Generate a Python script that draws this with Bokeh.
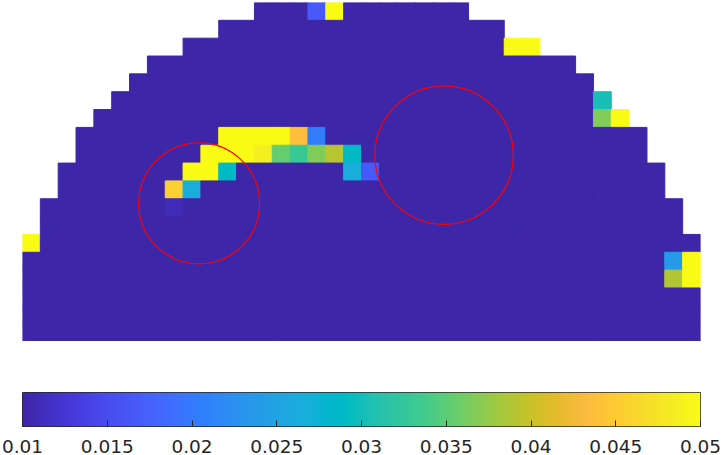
import numpy as np
from bokeh.plotting import figure
from bokeh.layouts import column
from bokeh.models import Range1d, LinearColorMapper, FixedTicker, ColumnDataSource
from bokeh.transform import linear_cmap
from bokeh.embed import file_html
from bokeh.resources import INLINE

# ---------------- data ----------------
n_cols = 38
n_rows = 19
# first / last filled column of each grid row (row 0 = top)
row_first = [13, 11, 9, 7, 6, 5, 4, 3, 3, 2, 2, 1, 1, 0, 0, 0, 0, 0, 0]
row_last = [24, 26, 28, 30, 31, 32, 33, 34, 34, 35, 35, 36, 36, 37, 37, 37, 37, 37, 37]
base_value = 0.0
# non-background cells
hot_row = [0, 0, 2, 2, 5, 6, 6, 7, 7, 7, 7, 7, 7,
           8, 8, 8, 8, 8, 8, 8, 8, 8,
           9, 9, 9, 9, 9, 10, 10, 11, 13, 14, 14, 15, 15]
hot_col = [16, 17, 27, 28, 32, 32, 33, 11, 12, 13, 14, 15, 16,
           10, 11, 12, 13, 14, 15, 16, 17, 18,
           9, 10, 11, 18, 19, 8, 9, 8, 0, 36, 37, 36, 37]
hot_val = [0.0167, 0.05, 0.05, 0.05, 0.0303, 0.0367, 0.05, 0.05, 0.05, 0.05, 0.05, 0.0437, 0.0202,
           0.05, 0.05, 0.05, 0.0487, 0.0354, 0.0329, 0.0367, 0.0392, 0.029,
           0.05, 0.05, 0.029, 0.0265, 0.0167, 0.0456, 0.0265, 0.011, 0.05, 0.024, 0.05, 0.0389, 0.05]

circle_x = [9.90, 23.63]
circle_y = [7.74, 10.44]
circle_r = [3.39, 3.88]

cbar_low = 0.01
cbar_high = 0.05
cbar_ticks = [0.01, 0.015, 0.02, 0.025, 0.03, 0.035, 0.04, 0.045, 0.05]
cbar_labels = ["0.01", "0.015", "0.02", "0.025", "0.03", "0.035", "0.04", "0.045", "0.05"]

# parula colormap (64 anchors)
parula64 = [
    (0.2422, 0.1504, 0.6603), (0.2504, 0.1650, 0.7076), (0.2578, 0.1818, 0.7511), (0.2647, 0.1978, 0.7952),
    (0.2706, 0.2147, 0.8364), (0.2751, 0.2342, 0.8710), (0.2783, 0.2559, 0.8991), (0.2803, 0.2782, 0.9221),
    (0.2813, 0.3006, 0.9414), (0.2810, 0.3228, 0.9579), (0.2795, 0.3447, 0.9717), (0.2760, 0.3667, 0.9829),
    (0.2699, 0.3892, 0.9906), (0.2602, 0.4123, 0.9952), (0.2440, 0.4358, 0.9988), (0.2206, 0.4603, 0.9973),
    (0.1963, 0.4847, 0.9892), (0.1834, 0.5074, 0.9798), (0.1786, 0.5289, 0.9682), (0.1764, 0.5499, 0.9520),
    (0.1687, 0.5703, 0.9359), (0.1540, 0.5902, 0.9218), (0.1460, 0.6091, 0.9079), (0.1380, 0.6276, 0.8973),
    (0.1248, 0.6459, 0.8883), (0.1113, 0.6635, 0.8763), (0.0952, 0.6798, 0.8598), (0.0689, 0.6948, 0.8394),
    (0.0297, 0.7082, 0.8163), (0.0036, 0.7203, 0.7917), (0.0067, 0.7312, 0.7660), (0.0433, 0.7411, 0.7394),
    (0.0964, 0.7500, 0.7120), (0.1408, 0.7584, 0.6842), (0.1717, 0.7670, 0.6554), (0.1938, 0.7758, 0.6251),
    (0.2161, 0.7843, 0.5923), (0.2470, 0.7918, 0.5567), (0.2906, 0.7973, 0.5188), (0.3406, 0.8008, 0.4789),
    (0.3909, 0.8029, 0.4354), (0.4456, 0.8024, 0.3909), (0.5044, 0.7993, 0.3480), (0.5616, 0.7942, 0.3045),
    (0.6174, 0.7876, 0.2612), (0.6720, 0.7793, 0.2227), (0.7242, 0.7698, 0.1910), (0.7738, 0.7598, 0.1646),
    (0.8203, 0.7498, 0.1535), (0.8634, 0.7406, 0.1596), (0.9035, 0.7330, 0.1774), (0.9393, 0.7288, 0.2100),
    (0.9728, 0.7298, 0.2394), (0.9956, 0.7434, 0.2371), (0.9970, 0.7659, 0.2199), (0.9952, 0.7893, 0.2028),
    (0.9892, 0.8136, 0.1885), (0.9786, 0.8386, 0.1766), (0.9676, 0.8639, 0.1643), (0.9610, 0.8890, 0.1537),
    (0.9597, 0.9135, 0.1423), (0.9628, 0.9373, 0.1265), (0.9691, 0.9606, 0.1064), (0.9769, 0.9839, 0.0805),
]

# ---------------- build ----------------
anc = np.array(parula64)
t_src = np.linspace(0, 1, len(anc))
t_dst = np.linspace(0, 1, 256)
pal = []
for t in t_dst:
    rgb = [np.interp(t, t_src, anc[:, k]) for k in range(3)]
    pal.append("#%02x%02x%02x" % tuple(int(round(v * 255)) for v in rgb))

hot = {(r, c): v for r, c, v in zip(hot_row, hot_col, hot_val)}
xs, ys, vs = [], [], []
for r in range(n_rows):
    for c in range(row_first[r], row_last[r] + 1):
        xs.append(c + 0.5)
        ys.append(n_rows - 1 - r + 0.5)
        vs.append(hot.get((r, c), base_value))
src = ColumnDataSource(dict(x=xs, y=ys, v=vs))

p = figure(frame_width=678, frame_height=339,
           x_range=Range1d(0, n_cols), y_range=Range1d(0, n_rows),
           output_backend="svg", toolbar_location=None,
           x_axis_location=None, y_axis_location=None,
           min_border_left=22, min_border_right=22, min_border_top=2, min_border_bottom=0)
p.outline_line_color = None
p.background_fill_color = "white"
p.border_fill_color = "white"
p.xgrid.visible = False
p.ygrid.visible = False

cmap = linear_cmap("v", pal, cbar_low, cbar_high)
p.rect(x="x", y="y", width=1, height=1, source=src,
       fill_color=cmap, line_color=cmap, line_width=1)
p.circle(x=circle_x, y=circle_y, radius=circle_r,
         fill_color=None, line_color="red", line_width=1.2)

# colour bar figure
p2 = figure(frame_width=678, frame_height=34,
            x_range=Range1d(cbar_low, cbar_high), y_range=Range1d(0, 1),
            output_backend="svg", toolbar_location=None,
            y_axis_location=None,
            min_border_left=22, min_border_right=22, min_border_top=51, min_border_bottom=0)
p2.xgrid.visible = False
p2.ygrid.visible = False
p2.outline_line_color = "#262626"
p2.outline_line_width = 1
mapper = LinearColorMapper(palette=pal, low=cbar_low, high=cbar_high)
grad = np.linspace(cbar_low, cbar_high, 256)[None, :]
p2.image(image=[grad], x=cbar_low, y=0, dw=cbar_high - cbar_low, dh=1, color_mapper=mapper)

ax = p2.xaxis[0]
ax.ticker = FixedTicker(ticks=cbar_ticks)
ax.major_label_overrides = {t: l for t, l in zip(cbar_ticks, cbar_labels)}
ax.axis_line_color = None
ax.major_tick_in = 6
ax.major_tick_out = 0
ax.major_tick_line_color = "#262626"
ax.minor_tick_line_color = None
ax.major_label_text_font = "DejaVu Sans"
ax.major_label_text_font_size = "18.5px"
ax.major_label_text_color = "#262626"
ax.major_label_standoff = 13

layout = column(p, p2, spacing=0)
open("out.html", "w").write(file_html(layout, INLINE))
